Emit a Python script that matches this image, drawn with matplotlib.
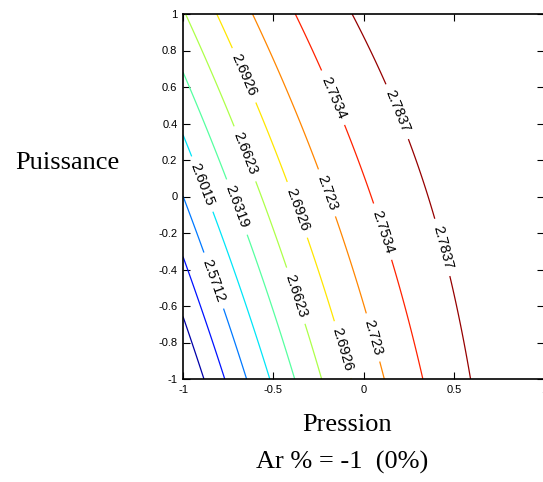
import numpy as np
import matplotlib
matplotlib.use("Agg")
import matplotlib.pyplot as plt
from matplotlib.ticker import FuncFormatter

plt.rcParams['axes.unicode_minus'] = False

# Quadratic response-surface model: f = b0 + b1*P + b2*W + b11*P^2 + b22*W^2 + b12*P*W
# (P = Pression, W = Puissance, coded units, Ar % fixed at -1)
b0 = 2.7484
b1 = 0.1194
b2 = 0.0420
b11 = -0.0580
b22 = -0.0020
b12 = -0.0487

contour_levels = [2.5105, 2.5409, 2.5712, 2.6015, 2.6319, 2.6623,
                  2.6926, 2.7230, 2.7534, 2.7837]

# label anchor points (Pression, Puissance)
label_x = [-0.657, -0.160, 0.237, -0.646, -0.188, -0.878, -0.702, -0.370,
           0.133, 0.486, -0.851, -0.398, 0.061, -0.122]
label_y = [0.666, 0.545, 0.485, 0.238, 0.025, 0.074, -0.058, -0.074,
           -0.184, -0.266, -0.468, -0.551, -0.770, -0.841]

x_ticks = [-1, -0.5, 0, 0.5, 1]
y_ticks = [-1, -0.8, -0.6, -0.4, -0.2, 0, 0.2, 0.4, 0.6, 0.8, 1]

P = np.linspace(-1, 1, 201)
W = np.linspace(-1, 1, 201)
PP, WW = np.meshgrid(P, W)
Z = b0 + b1 * PP + b2 * WW + b11 * PP**2 + b22 * WW**2 + b12 * PP * WW

fig = plt.figure(figsize=(5.43, 4.82), dpi=100)
W_px, H_px = 543, 482
left, right, top, bottom = 183, 544, 14, 379
ax = fig.add_axes([left / W_px, 1 - bottom / H_px,
                   (right - left) / W_px, (bottom - top) / H_px])

cs = ax.contour(PP, WW, Z, levels=contour_levels, cmap='jet',
                vmin=2.500, vmax=2.790, linewidths=0.9)
ax.clabel(cs, inline=True, inline_spacing=4,
          fmt=lambda v: f"{v:.5g}", colors='black',
          manual=list(zip(label_x, label_y)),
          fontsize=10.5)
for t in cs.labelTexts:
    t.set_fontfamily('Liberation Sans')

ax.set_xlim(-1, 1)
ax.set_ylim(-1, 1)
ax.set_xticks(x_ticks)
ax.set_yticks(y_ticks)
fmt = FuncFormatter(lambda v, p: f"{v:g}")
ax.xaxis.set_major_formatter(fmt)
ax.yaxis.set_major_formatter(fmt)
ax.tick_params(direction='in', length=5, width=0.8, top=True, right=True,
               labelsize=8, pad=4)
for lab in ax.get_xticklabels() + ax.get_yticklabels():
    lab.set_fontfamily('Liberation Sans')
for s in ax.spines.values():
    s.set_linewidth(1.2)

serif = 'Liberation Serif'
fig.text(15 / W_px, 1 - 163 / H_px, 'Puissance', fontsize=19, family=serif,
         ha='left', va='center')
fig.text(347 / W_px, 1 - 425 / H_px, 'Pression', fontsize=19, family=serif,
         ha='center', va='center')
fig.text(342 / W_px, 1 - 462 / H_px, 'Ar % = -1  (0%)', fontsize=19,
         family=serif, ha='center', va='center')

fig.savefig('out.png', dpi=100)
